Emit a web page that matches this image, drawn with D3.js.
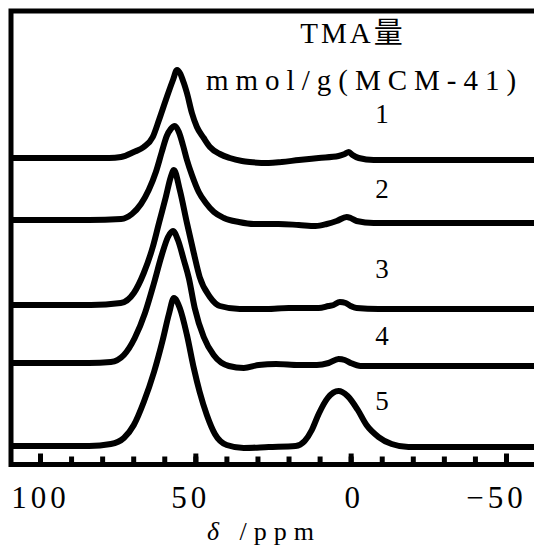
<!DOCTYPE html>
<html lang="ja">
<head>
<meta charset="UTF-8">
<script src="https://cdn.jsdelivr.net/npm/d3@7"></script>
<style>
  body { margin: 0; background: #fff; }
  .trace { fill: none; stroke: #000; stroke-width: 6; stroke-linejoin: round; stroke-linecap: round; }
  .frame { fill: none; stroke: #000; stroke-width: 5; }
</style>
</head>
<body>
<div id="chart"></div>
<script>
// spectra: [ppm, intensity]
var trace1 = [[110,0],[84.2,0],[77.8,0],[73.9,1],[69.8,6],[66.6,11],[63.7,21],[61.7,38],[59.5,58],[57.2,78],
  [55.9,88],[53.7,75],[52.7,65],[51.1,45],[49.5,31],[47.3,20],[45.3,11],[42.1,4],[38.9,0],[35,-3],[32.5,-4],
  [26.4,-5],[22.2,-4],[16.7,-2],[10.3,0],[3.9,2],[1.9,4],[0.6,6],[-0.6,3],[-2.6,0],[-7.4,-2],[-60,-2]];
var trace2 = [[110,0],[84.2,0],[73.9,1],[70.4,6],[67.5,16],[65,30],[62.7,48],[60.8,68],[59.2,84],[57.9,91],
  [56.6,94],[55.3,88],[54,75],[52.7,60],[51.1,45],[48.9,28],[46.6,17],[44,8],[40.8,2],[36,-2],[31.2,-4],
  [23.2,-4],[16.7,-5],[11.3,-6],[7.7,-4],[4.5,-1],[1.3,3],[0,2],[-1.9,-1],[-7.4,-3],[-60,-3]];
var trace3 = [[110,0],[83.6,0],[74,2],[69.8,12],[66.6,32],[63.7,58],[61.7,82],[59.5,108],[57.9,128],[56.9,135],
  [55,115],[52.7,82],[50.5,52],[48.6,28],[45.3,8],[42.1,-1],[35.7,-4],[27,-4],[20,-3],[10.3,-3],
  [7.1,-1],[5.5,0],[3.5,3],[1.6,2],[0,-1],[-1.9,-3],[-9,-4],[-60,-4]];
var trace4 = [[110,0],[84.2,0],[77.2,1],[73,8],[69.5,25],[66.2,50],[63.3,80],[60.8,108],[58.8,126],[57.2,132],
  [55.6,123],[53.7,103],[52.1,85],[50.2,55],[47.3,26],[44.1,8],[39.2,-3],[34.4,-5],[29.6,-2],[24,-1],
  [16.7,-2],[10.9,-2],[7.1,0],[3.9,4],[1.9,3],[0,0],[-3.2,-3],[-9,-3],[-60,-3]];
var trace5 = [[110,0],[84.2,0],[77.2,2],[73,8],[69.8,21],[66.6,44],[63.3,74],[60.5,106],[58.5,132],[56.9,148],
  [55,138],[52.7,111],[50.5,78],[48.6,54],[46.3,31],[43.7,12],[39.9,1],[34.4,-2],[26.4,-1],[17.7,0],
  [14.8,5],[12.5,16],[10.3,32],[7.4,48],[3.9,55],[1,50],[-2.3,36],[-5.1,21],[-9,9],[-13.2,2],[-18.6,-1],[-60,-1]];

var traces = [trace1, trace2, trace3, trace4, trace5];
var offsets = [288, 226, 141, 83, 0];          // stacking offset, intensity units
var amounts = ["1", "2", "3", "4", "5"];       // TMA量 mmol/g(MCM-41)
var majorTicks = [100, 50, 0, -50];
var minorTicks = [100, 90, 80, 70, 60, 50, 40, 30, 20, 10, 0, -10, -20, -30, -40, -50];

// layout
var width = 534, height = 545;
var frameLeft = 11, frameTop = 11, frameBottom = 464.5;
var labelY = [123, 198, 278, 345, 410];
var tickShift = { "100": 0, "50": -5, "0": 3, "-50": -10 };
var serif = "'Liberation Serif', 'Noto Sans CJK JP'";

var svg = d3.select("#chart").append("svg")
  .attr("width", width)
  .attr("height", height);

var xScale = d3.scaleLinear().domain([100, -50]).range([40, 506]);
var yScale = d3.scaleLinear().domain([0, 435]).range([446, 11]);

svg.append("clipPath").attr("id", "plot_clip")
  .append("rect")
  .attr("x", frameLeft).attr("y", 0)
  .attr("width", width).attr("height", frameBottom);

var line = d3.line().curve(d3.curveMonotoneX);

svg.append("g").attr("clip-path", "url(#plot_clip)")
  .selectAll("path")
  .data(traces)
  .enter()
  .append("path")
  .attr("class", "trace")
  .attr("d", function(d, i) {
    return line(d.map(function(p) { return [xScale(p[0]), yScale(p[1] + offsets[i])]; }));
  });

// frame (open on the right, cut by the window)
svg.append("path")
  .attr("class", "frame")
  .attr("d", "M" + (width + 10) + "," + frameTop + "H" + frameLeft + "V" + frameBottom + "H" + (width + 10));

// ticks pointing up from the bottom line
var minorAxis = svg.append("g")
  .attr("transform", "translate(0," + frameBottom + ")")
  .call(d3.axisTop(xScale).tickValues(minorTicks).tickSize(8).tickFormat(""));
var majorAxis = svg.append("g")
  .attr("transform", "translate(0," + frameBottom + ")")
  .call(d3.axisTop(xScale).tickValues(majorTicks).tickSize(11).tickFormat(""));
[minorAxis, majorAxis].forEach(function(a) {
  a.select(".domain").remove();
  a.selectAll("line").attr("stroke", "#000").attr("stroke-width", 5);
});

var labelAxis = svg.append("g")
  .attr("transform", "translate(0," + frameBottom + ")")
  .call(d3.axisBottom(xScale).tickValues(majorTicks).tickSize(0));
labelAxis.select(".domain").remove();
labelAxis.selectAll("text")
  .attr("dy", null)
  .attr("dx", function(d) { return tickShift[d]; })
  .attr("y", 43.5)
  .attr("fill", "#000")
  .style("font-family", serif)
  .style("font-size", "31px")
  .style("letter-spacing", "4px");

// axis title
var xt = svg.append("text")
  .attr("x", 264)
  .attr("y", 540)
  .attr("text-anchor", "middle")
  .style("font-family", serif)
  .style("font-size", "26px")
  .style("letter-spacing", "7px");
xt.append("tspan").style("font-style", "italic").text("δ");
xt.append("tspan").text(" /ppm");

// legend head
svg.append("text")
  .attr("x", 353)
  .attr("y", 42.5)
  .attr("text-anchor", "middle")
  .style("font-family", serif)
  .style("font-size", "29px")
  .style("letter-spacing", "3px")
  .text("TMA量");
svg.append("text")
  .attr("x", 206)
  .attr("y", 90)
  .style("font-family", serif)
  .style("font-size", "29px")
  .style("letter-spacing", "7px")
  .text("mmol/g(MCM-41)");

// amount labels
svg.selectAll(".amount_text")
  .data(amounts)
  .enter()
  .append("text")
  .attr("class", "amount_text")
  .attr("x", 382)
  .attr("y", function(d, i) { return labelY[i]; })
  .attr("text-anchor", "middle")
  .style("font-family", serif)
  .style("font-size", "27px")
  .text(function(d) { return d; });
</script>
</body>
</html>
